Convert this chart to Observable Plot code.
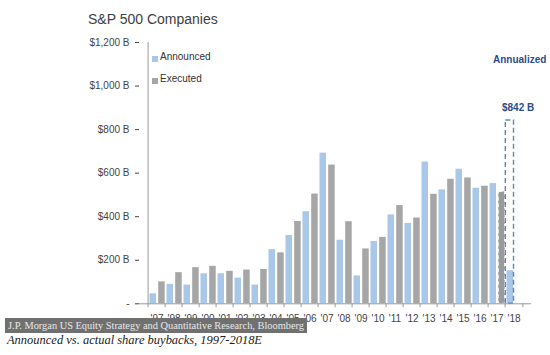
<!DOCTYPE html>
<html>
<head>
<meta charset="utf-8">
<script src="https://cdn.jsdelivr.net/npm/d3@7"></script>
<script src="https://cdn.jsdelivr.net/npm/@observablehq/plot@0.6"></script>
<style>
  html, body { margin: 0; padding: 0; background: #fff; }
  #wrap { position: relative; width: 550px; height: 355px; overflow: hidden; font-family: "Liberation Sans", Arial, sans-serif; }
  #chart { position: absolute; left: 0; top: 0; }
  .abs { position: absolute; white-space: nowrap; }
  #title { left: 88px; top: 11px; font-size: 14px; color: #404040; }
  .leg { font-size: 10px; color: #333; }
  .sw { position: absolute; width: 6px; height: 6px; }
  .note { font-size: 10px; font-weight: bold; color: #2B4C8C; }
  #source { left: 5px; top: 318px; width: 302px; height: 15px; background: #707070; }
  #sourceText { left: 8px; top: 319px; font-family: "Liberation Serif", "DejaVu Serif", serif; font-size: 11px; color: #e8e8e8; transform-origin: 0 0; }
  #caption { left: 7px; top: 333px; font-family: "Liberation Serif", "DejaVu Serif", serif; font-style: italic; font-size: 12.5px; color: #222; transform-origin: 0 0; }
</style>
</head>
<body>
<div id="wrap">
  <div id="chart"></div>
  <div class="abs" id="title">S&amp;P 500 Companies</div>
  <div class="sw" style="left:152px;top:55.5px;background:#A9C7E8"></div>
  <div class="abs leg" style="left:160px;top:51px">Announced</div>
  <div class="sw" style="left:152px;top:77.5px;background:#A6A6A6"></div>
  <div class="abs leg" style="left:160px;top:73px">Executed</div>
  <div class="abs note" id="annual" style="left:493px;top:54px">Annualized</div>
  <div class="abs note" id="val842" style="left:502px;top:102px">$842 B</div>
  <div class="abs" id="source"></div>
  <div class="abs" id="sourceText">J.P. Morgan US Equity Strategy and Quantitative Research, Bloomberg</div>
  <div class="abs" id="caption">Announced vs. actual share buybacks, 1997-2018E</div>
</div>
<script>
// ---- data ----
const years = ["'97","'98","'99","'00","'01","'02","'03","'04","'05","'06","'07","'08","'09","'10","'11","'12","'13","'14","'15","'16","'17","'18"];
const announced = [46, 89, 86, 138, 138, 118, 86, 249, 314, 423, 692, 292, 128, 286, 408, 369, 651, 523, 618, 531, 552, 152];
const executed  = [101, 143, 166, 172, 149, 155, 158, 234, 378, 504, 637, 377, 252, 305, 451, 394, 503, 572, 578, 540, 514];
const estimatedYears = ["'17"];
const annualizedYears = ["'18"];
const annualizedValues = [842];
const yTicks = [0, 200, 400, 600, 800, 1000, 1200];

const annRows = years.map((year, i) => ({year, value: announced[i]}));
const exeRows = executed.map((value, i) => ({year: years[i], value}));
const exeNormal = exeRows.filter(d => !estimatedYears.includes(d.year));
const exeEst = exeRows.filter(d => estimatedYears.includes(d.year));
const annualRows = annualizedYears.map((year, i) => ({year, value: annualizedValues[i]}));

const W = 550, H = 355, mL = 139, mR = 19, mT = 42, mB = 51.7;
const band = (W - mL - mR) / years.length;

const plot = Plot.plot({
  width: W, height: H,
  marginLeft: mL, marginRight: mR, marginTop: mT, marginBottom: mB,
  style: {fontFamily: "Liberation Sans, Arial, sans-serif", fontSize: "10px", color: "#444", background: "transparent"},
  x: {domain: years, padding: 0, tickSize: 0, tickPadding: 11, label: null},
  y: {domain: [0, 1200], ticks: yTicks, tickSize: 4, tickPadding: 6, label: null,
      tickFormat: d => d === 0 ? "-" : "$" + d3.format(",")(d) + " B"},
  marks: [
    Plot.barY(annRows, {x: "year", y: "value", fill: "#A9C7E8", insetLeft: 1.5, insetRight: 9}),
    Plot.barY(exeNormal, {x: "year", y: "value", fill: "#A6A6A6", insetLeft: 10.2, insetRight: 0.3}),
    Plot.barY(exeEst, {x: "year", y: "value", fill: "#9A9A9A", stroke: "#fff", strokeDasharray: "4,2.5", strokeWidth: 1, insetLeft: 10.2, insetRight: 0.3}),
    Plot.barY(annualRows, {x: "year", y: "value", fill: "none", stroke: "#5B86C6", strokeWidth: 1.4, strokeDasharray: "5,3", insetLeft: 0.3, insetRight: 8.5}),
    Plot.ruleY([0], {stroke: "#999"}),
    Plot.ruleX([years[0]], {y1: 0, y2: 1200, dx: -band / 2, stroke: "#999"}),
    Plot.ruleX(years, {y1: 0, y2: -18, dx: -band / 2, stroke: "#999"}),
    Plot.ruleX([years[years.length - 1]], {y1: 0, y2: -18, dx: band / 2, stroke: "#999"})
  ]
});
document.getElementById("chart").appendChild(plot);

function fit(id, target) {
  const el = document.getElementById(id);
  const w = el.getBoundingClientRect().width;
  if (w > 0) el.style.transform = `scaleX(${target / w})`;
}
fit("sourceText", 296);
fit("caption", 255);
</script>
</body>
</html>
